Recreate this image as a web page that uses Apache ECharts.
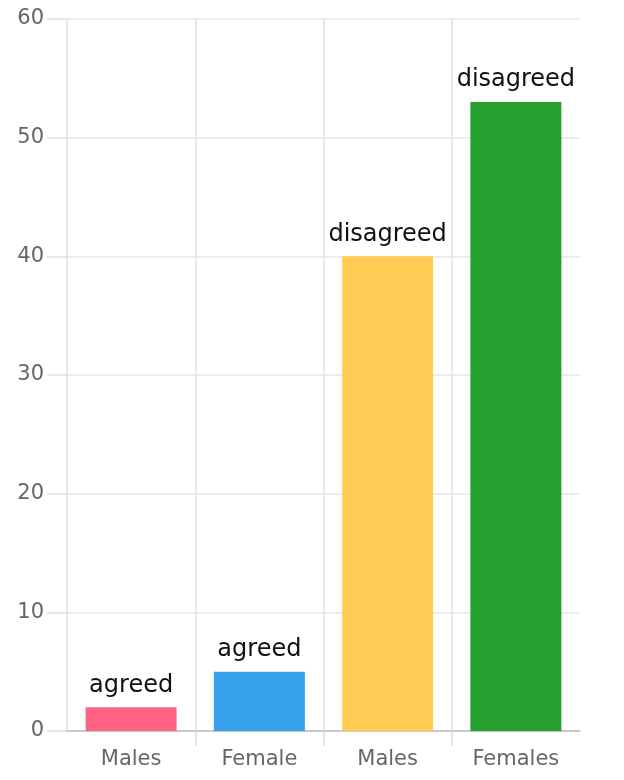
<!DOCTYPE html>
<html>
<head>
<meta charset="utf-8">
<script src="https://cdn.jsdelivr.net/npm/echarts@6/dist/echarts.min.js"></script>
<style>
  html, body { margin: 0; padding: 0; background: #fff; }
  #chart { width: 624px; height: 780px; }
</style>
</head>
<body>
<div id="chart"></div>
<script>
// Survey responses by group
const categories = ['Males', 'Female', 'Males', 'Females'];
const values = [2, 5, 40, 53];
const responseLabels = ['agreed', 'agreed', 'disagreed', 'disagreed'];
const barColors = ['#ff6384', '#36a2eb', '#ffcd56', '#26a02e'];
const yTicks = { min: 0, max: 60, interval: 10 };

// Boundaries between the category bands (used for the inner separators only)
const bandEdges = ['', '', '', '', ''];
const innerEdge = i => i > 0 && i < bandEdges.length - 1;

const FONT = 'DejaVu Sans';
const chart = echarts.init(document.getElementById('chart'), null, { renderer: 'canvas' });

chart.setOption({
  animation: false,
  textStyle: { fontFamily: FONT },
  grid: { left: 67, right: 44, top: 19, bottom: 49, containLabel: false },
  xAxis: [{
    type: 'category',
    data: categories,
    boundaryGap: true,
    position: 'bottom',
    axisLine: { show: true, lineStyle: { color: '#bdbdbd', width: 1.5 } },
    axisTick: { show: false },
    axisLabel: { color: '#666', fontSize: 21, margin: 18, fontFamily: FONT },
    splitLine: { show: false }
  }, {
    type: 'category',
    data: bandEdges,
    boundaryGap: false,
    position: 'bottom',
    axisLine: { show: false },
    axisLabel: { show: false },
    axisTick: { show: true, length: 15, interval: innerEdge, lineStyle: { color: '#dcdcdc', width: 1.5 } },
    splitLine: { show: true, interval: innerEdge, lineStyle: { color: '#e0e0e0', width: 1.5 } }
  }],
  yAxis: {
    type: 'value',
    min: yTicks.min,
    max: yTicks.max,
    interval: yTicks.interval,
    axisLine: { show: true, lineStyle: { color: '#e0e0e0', width: 1.5 } },
    axisTick: { show: true, length: 20, lineStyle: { color: '#e0e0e0', width: 1.5 } },
    axisLabel: { color: '#666', fontSize: 21, margin: 23, fontFamily: FONT },
    splitLine: { show: true, lineStyle: { color: '#e6e6e6', width: 1.5 } }
  },
  series: [{
    type: 'bar',
    xAxisIndex: 0,
    barWidth: 91,
    data: values.map((v, i) => ({
      value: v,
      itemStyle: { color: barColors[i] }
    })),
    label: {
      show: true,
      position: 'top',
      distance: 10,
      color: '#111',
      fontSize: 24,
      fontFamily: FONT,
      formatter: p => responseLabels[p.dataIndex]
    }
  }]
});
</script>
</body>
</html>
